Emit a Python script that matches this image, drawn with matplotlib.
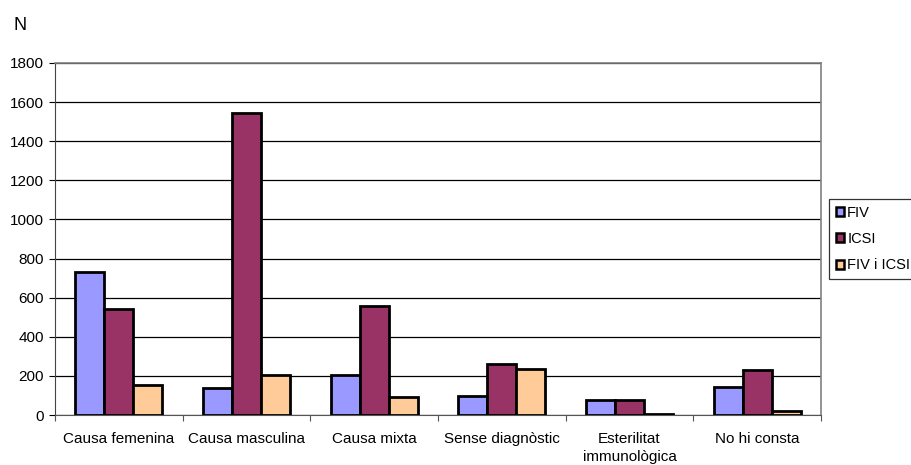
import numpy as np
import matplotlib.pyplot as plt

plt.rcParams['font.family'] = ['Liberation Sans', 'DejaVu Sans']

categories = ["Causa femenina", "Causa masculina", "Causa mixta",
              "Sense diagnòstic", "Esterilitat\nimmunològica", "No hi consta"]
fiv = [730, 136, 203, 97, 78, 143]
icsi = [540, 1542, 555, 259, 78, 230]
fiv_icsi = [152, 203, 94, 233, 5, 22]
series = [("FIV", fiv, "#9999FF"),
          ("ICSI", icsi, "#993366"),
          ("FIV i ICSI", fiv_icsi, "#FFCC99")]

fig = plt.figure(figsize=(9.12, 4.65), dpi=100)
ax = fig.add_axes([55 / 912, 50 / 465, 766 / 912, 352 / 465])

x = np.arange(len(categories))
w = 0.227
for i, (name, vals, col) in enumerate(series):
    ax.bar(x + (i - 1) * w, vals, w, color=col, edgecolor="black",
           linewidth=2.0, label=name, zorder=3)

ax.set_xlim(-0.5, len(categories) - 0.5)
ax.set_ylim(0, 1800)
ax.set_yticks(range(0, 1801, 200))
ax.yaxis.grid(True, color="black", linewidth=0.9, zorder=0)
ax.set_axisbelow(True)

# category ticks sit between the groups, labels centred under each group
ax.set_xticks(np.arange(-0.5, len(categories), 1.0))
ax.set_xticklabels([])
ax.set_xticks(x, minor=True)
ax.set_xticklabels(categories, minor=True, fontsize=11, linespacing=1.4)
ax.tick_params(axis="x", which="minor", length=0, pad=12)
ax.tick_params(axis="x", which="major", length=4, color="#555555")
ax.tick_params(axis="y", length=4, labelsize=11, pad=4)

for s in ["top", "right"]:
    ax.spines[s].set_color("#808080")
    ax.spines[s].set_linewidth(1.2)
ax.spines["left"].set_color("#444444")
ax.spines["bottom"].set_color("#555555")

fig.text(14 / 912, 1 - 25 / 465, "N", fontsize=13, va="center", ha="left")

leg = fig.legend(loc="upper left", bbox_to_anchor=(829 / 912, 1 - 199 / 465),
                 fontsize=10.5, frameon=True, fancybox=False, edgecolor="black",
                 handlelength=0.6, handleheight=0.6, handletextpad=0.2,
                 labelspacing=0.85, borderpad=0.45, borderaxespad=0)
leg.get_frame().set_linewidth(0.9)
for h in leg.legend_handles:
    h.set_linewidth(1.8)

fig.savefig("out.png", dpi=100)
